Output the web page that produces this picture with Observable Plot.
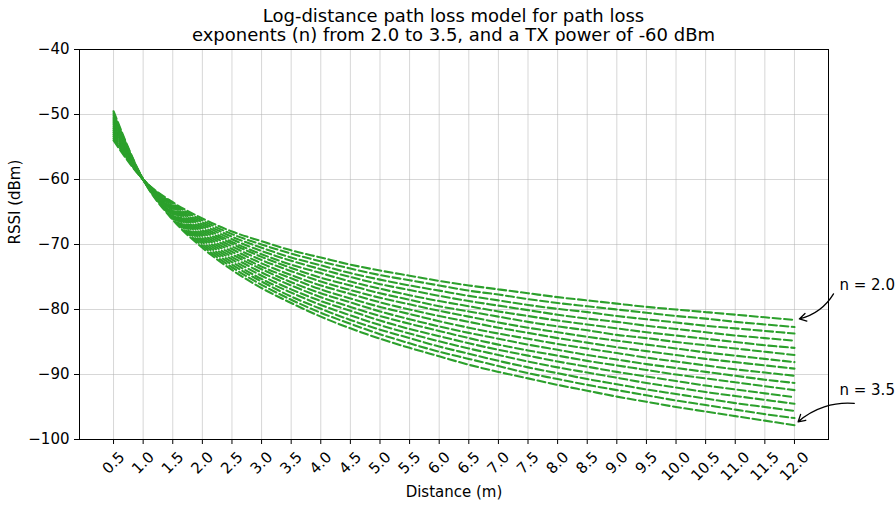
<!DOCTYPE html>
<html>
<head>
<meta charset="utf-8">
<script src="https://cdn.jsdelivr.net/npm/d3@7"></script>
<script src="https://cdn.jsdelivr.net/npm/@observablehq/plot@0.6"></script>
<style>
  body { margin: 0; background: #fff; }
  #chart { width: 896px; height: 506px; font-family: "DejaVu Sans", sans-serif; color: #000; }
  #title {
    box-sizing: border-box; height: 45px; padding-top: 5.5px; padding-left: 11px;
    text-align: center; font-size: 18px; line-height: 19.5px;
  }
  #chart svg { display: block; overflow: visible; }
</style>
</head>
<body>
<div id="chart">
  <div id="title">Log-distance path loss model for path loss<br>exponents (n) from 2.0 to 3.5, and a TX power of -60 dBm</div>
</div>
<script>
// Distances (m) at which the received signal strength is listed
const distances = [0.5, 1.0, 1.5, 2.0, 2.5, 3.0, 3.5, 4.0, 4.5, 5.0, 5.5, 6.0,
                   6.5, 7.0, 7.5, 8.0, 8.5, 9.0, 9.5, 10.0, 10.5, 11.0, 11.5, 12.0];

// Path loss exponents, one curve each
const exponents = [2.0, 2.1, 2.2, 2.3, 2.4, 2.5, 2.6, 2.7, 2.8, 2.9, 3.0, 3.1, 3.2, 3.3, 3.4, 3.5];

// RSSI (dBm) per exponent, one value per distance
const rssi_n20 = [-54.0, -60.0, -63.5, -66.0, -68.0, -69.5, -70.9, -72.0, -73.1, -74.0, -74.8, -75.6, -76.3, -76.9, -77.5, -78.1, -78.6, -79.1, -79.6, -80.0, -80.4, -80.8, -81.2, -81.6];
const rssi_n21 = [-53.7, -60.0, -63.7, -66.3, -68.4, -70.0, -71.4, -72.6, -73.7, -74.7, -75.5, -76.3, -77.1, -77.7, -78.4, -79.0, -79.5, -80.0, -80.5, -81.0, -81.4, -81.9, -82.3, -82.7];
const rssi_n22 = [-53.4, -60.0, -63.9, -66.6, -68.8, -70.5, -72.0, -73.2, -74.4, -75.4, -76.3, -77.1, -77.9, -78.6, -79.3, -79.9, -80.4, -81.0, -81.5, -82.0, -82.5, -82.9, -83.3, -83.7];
const rssi_n23 = [-53.1, -60.0, -64.1, -66.9, -69.2, -71.0, -72.5, -73.8, -75.0, -76.1, -77.0, -77.9, -78.7, -79.4, -80.1, -80.8, -81.4, -81.9, -82.5, -83.0, -83.5, -84.0, -84.4, -84.8];
const rssi_n24 = [-52.8, -60.0, -64.2, -67.2, -69.6, -71.5, -73.1, -74.4, -75.7, -76.8, -77.8, -78.7, -79.5, -80.3, -81.0, -81.7, -82.3, -82.9, -83.5, -84.0, -84.5, -85.0, -85.5, -85.9];
const rssi_n25 = [-52.5, -60.0, -64.4, -67.5, -69.9, -71.9, -73.6, -75.1, -76.3, -77.5, -78.5, -79.5, -80.3, -81.1, -81.9, -82.6, -83.2, -83.9, -84.4, -85.0, -85.5, -86.0, -86.5, -87.0];
const rssi_n26 = [-52.2, -60.0, -64.6, -67.8, -70.3, -72.4, -74.1, -75.7, -77.0, -78.2, -79.2, -80.2, -81.1, -82.0, -82.8, -83.5, -84.2, -84.8, -85.4, -86.0, -86.6, -87.1, -87.6, -88.1];
const rssi_n27 = [-51.9, -60.0, -64.8, -68.1, -70.7, -72.9, -74.7, -76.3, -77.6, -78.9, -80.0, -81.0, -81.9, -82.8, -83.6, -84.4, -85.1, -85.8, -86.4, -87.0, -87.6, -88.1, -88.6, -89.1];
const rssi_n28 = [-51.6, -60.0, -64.9, -68.4, -71.1, -73.4, -75.2, -76.9, -78.3, -79.6, -80.7, -81.8, -82.8, -83.7, -84.5, -85.3, -86.0, -86.7, -87.4, -88.0, -88.6, -89.2, -89.7, -90.2];
const rssi_n29 = [-51.3, -60.0, -65.1, -68.7, -71.5, -73.8, -75.8, -77.5, -78.9, -80.3, -81.5, -82.6, -83.6, -84.5, -85.4, -86.2, -87.0, -87.7, -88.4, -89.0, -89.6, -90.2, -90.8, -91.3];
const rssi_n30 = [-51.0, -60.0, -65.3, -69.0, -71.9, -74.3, -76.3, -78.1, -79.6, -81.0, -82.2, -83.3, -84.4, -85.4, -86.3, -87.1, -87.9, -88.6, -89.3, -90.0, -90.6, -91.2, -91.8, -92.4];
const rssi_n31 = [-50.7, -60.0, -65.5, -69.3, -72.3, -74.8, -76.9, -78.7, -80.2, -81.7, -83.0, -84.1, -85.2, -86.2, -87.1, -88.0, -88.8, -89.6, -90.3, -91.0, -91.7, -92.3, -92.9, -93.5];
const rssi_n32 = [-50.4, -60.0, -65.6, -69.6, -72.7, -75.3, -77.4, -79.3, -80.9, -82.4, -83.7, -84.9, -86.0, -87.0, -88.0, -88.9, -89.7, -90.5, -91.3, -92.0, -92.7, -93.3, -93.9, -94.5];
const rssi_n33 = [-50.1, -60.0, -65.8, -69.9, -73.1, -75.7, -78.0, -79.9, -81.6, -83.1, -84.4, -85.7, -86.8, -87.9, -88.9, -89.8, -90.7, -91.5, -92.3, -93.0, -93.7, -94.4, -95.0, -95.6];
const rssi_n34 = [-49.8, -60.0, -66.0, -70.2, -73.5, -76.2, -78.5, -80.5, -82.2, -83.8, -85.2, -86.5, -87.6, -88.7, -89.8, -90.7, -91.6, -92.4, -93.2, -94.0, -94.7, -95.4, -96.1, -96.7];
const rssi_n35 = [-49.5, -60.0, -66.2, -70.5, -73.9, -76.7, -79.0, -81.1, -82.9, -84.5, -85.9, -87.2, -88.5, -89.6, -90.6, -91.6, -92.5, -93.4, -94.2, -95.0, -95.7, -96.4, -97.1, -97.8];

const rssiSeries = [rssi_n20, rssi_n21, rssi_n22, rssi_n23, rssi_n24, rssi_n25, rssi_n26, rssi_n27,
                    rssi_n28, rssi_n29, rssi_n30, rssi_n31, rssi_n32, rssi_n33, rssi_n34, rssi_n35];

// Axis ticks
const xTicks = distances;
const xTickLabels = ["0.5", "1.0", "1.5", "2.0", "2.5", "3.0", "3.5", "4.0", "4.5", "5.0", "5.5", "6.0",
                     "6.5", "7.0", "7.5", "8.0", "8.5", "9.0", "9.5", "10.0", "10.5", "11.0", "11.5", "12.0"];
const yTicks = [-100, -90, -80, -70, -60, -50, -40];

// Callouts for the first and last exponent
const calloutText = ["n = 2.0", "n = 3.5"];
const calloutSeries = [0, 15];          // index into exponents
const calloutTextX = [12.76, 12.76];
const calloutTextY = [-76.25, -92.45];
const calloutFromX = [12.66, 13.01];
const calloutFromY = [-77.6, -94.45];
const calloutBend = [25, -25];

// Long-format table for the line mark
const table = exponents.flatMap((n, i) =>
  distances.map((d, j) => ({n, d, rssi: rssiSeries[i][j]}))
);

const tickLabels = xTicks.map((v, i) => ({v, label: xTickLabels[i]}));
const last = distances.length - 1;
const callouts = calloutText.map((t, i) => ({
  text: t,
  tx: calloutTextX[i], ty: calloutTextY[i],
  x1: calloutFromX[i], y1: calloutFromY[i],
  x2: distances[last],
  y2: rssiSeries[calloutSeries[i]][last]
}));

const minus = d => (d < 0 ? "\u2212" + (-d) : String(d));
const green = "#2ca02c";
const gridStyle = {stroke: "#b0b0b0", strokeOpacity: 0.5, strokeWidth: 1};
const FS = 15;

const chart = Plot.plot({
  width: 896,
  height: 461,
  marginTop: 4,
  marginBottom: 67,
  marginLeft: 79,
  marginRight: 68,
  style: {fontFamily: "DejaVu Sans, sans-serif", fontSize: FS + "px", background: "white", color: "black", overflow: "visible"},
  x: {domain: [-0.075, 12.575]},
  y: {domain: [-100, -40]},
  marks: [
    Plot.gridX(xTicks, gridStyle),
    Plot.gridY(yTicks, gridStyle),
    Plot.line(table, {
      x: "d", y: "rssi", z: "n",
      stroke: green, strokeWidth: 2.1, strokeDasharray: "8,3.5",
      curve: "monotone-x"
    }),
    Plot.frame({stroke: "black", strokeWidth: 1}),
    Plot.axisY(yTicks, {tickSize: 5, tickPadding: 5, tickFormat: minus, label: null, fontSize: FS}),
    Plot.axisX(xTicks, {tickSize: 5, tickFormat: () => "", label: null}),
    // rotated distance labels, centred under their ticks
    Plot.text(tickLabels.filter(t => t.label.length === 3), {
      x: "v", text: "label", frameAnchor: "bottom", dy: 23.5,
      rotate: -45, textAnchor: "middle", lineAnchor: "middle", fontSize: FS
    }),
    Plot.text(tickLabels.filter(t => t.label.length === 4), {
      x: "v", text: "label", frameAnchor: "bottom", dy: 27,
      rotate: -45, textAnchor: "middle", lineAnchor: "middle", fontSize: FS
    }),
    Plot.text(["RSSI (dBm)"], {text: d => d, frameAnchor: "left", dx: -64, rotate: -90, fontSize: FS}),
    Plot.text(["Distance (m)"], {text: d => d, frameAnchor: "bottom", dy: 57, fontSize: FS}),
    ...callouts.map((c, i) => Plot.arrow([c], {
      x1: "x1", y1: "y1", x2: "x2", y2: "y2",
      bend: calloutBend[i], stroke: "black", strokeWidth: 1.3,
      headLength: 9, insetEnd: 5
    })),
    Plot.text(callouts, {x: "tx", y: "ty", text: "text", textAnchor: "start", fontSize: FS})
  ]
});

document.getElementById("chart").appendChild(chart);
</script>
</body>
</html>
